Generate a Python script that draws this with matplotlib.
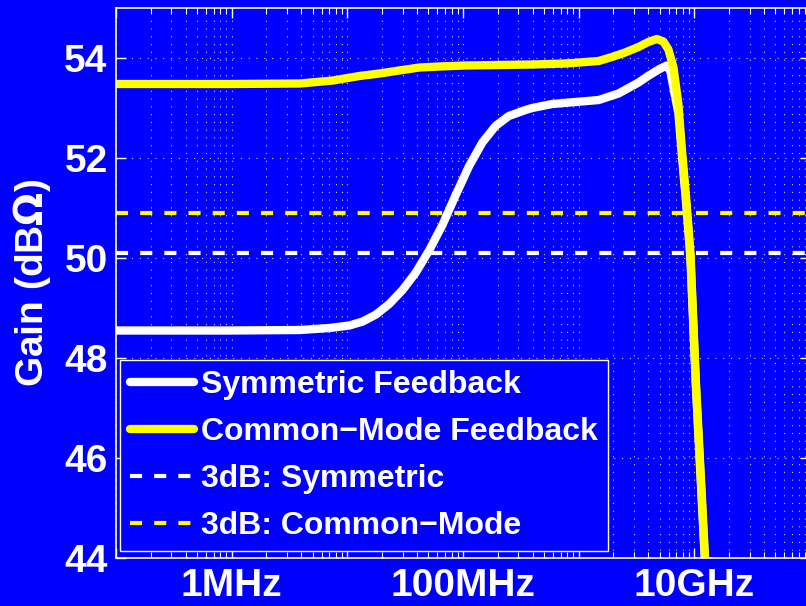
import matplotlib
matplotlib.use("Agg")
import matplotlib.pyplot as plt
from matplotlib.ticker import FixedLocator, FixedFormatter, LogLocator, NullFormatter

# frequency (Hz) and gain (dB ohm)
freq_sym = [1.0e5, 1.0e6, 3.9e6, 7.0e6, 1.04e7, 1.36e7, 1.77e7, 2.3e7, 3.0e7,
            3.91e7, 5.09e7, 6.64e7, 8.65e7, 1.13e8, 1.47e8, 1.91e8, 2.49e8,
            3.47e8, 3.96e8, 5.9e8, 9.35e8, 1.49e9, 2.21e9, 3.29e9, 3.98e9,
            5.0e9, 5.75e9, 6.2e9, 6.73e9, 7.28e9, 7.78e9, 8.53e9, 9.25e9,
            1.03e10, 1.13e10, 1.24e10, 1.38e10]
gain_sym = [48.55, 48.55, 48.56, 48.60, 48.65, 48.73, 48.87, 49.08, 49.36,
            49.71, 50.15, 50.66, 51.26, 51.84, 52.31, 52.64, 52.84,
            52.96, 53.00, 53.08, 53.12, 53.16, 53.29, 53.51, 53.64,
            53.78, 53.85, 53.74, 53.30, 52.90, 52.10, 51.05, 50.00,
            47.45, 45.65, 43.85, 41.60]

freq_cm = [1.0e5, 1.0e6, 3.9e6, 7.5e6, 1.27e7, 1.9e7, 2.8e7, 4.2e7, 6.2e7,
           1.05e8, 2.0e8, 4.0e8, 7.7e8, 1.49e9, 1.94e9, 2.52e9, 3.29e9,
           4.0e9, 4.73e9, 5.4e9, 5.97e9, 6.6e9, 7.28e9, 7.78e9, 8.53e9,
           9.25e9, 1.03e10, 1.13e10, 1.24e10, 1.38e10]
gain_cm = [53.48, 53.48, 53.49, 53.55, 53.64, 53.69, 53.75, 53.81, 53.83,
           53.85, 53.86, 53.87, 53.89, 53.94, 54.02, 54.11, 54.22,
           54.32, 54.38, 54.33, 54.17, 53.81, 53.08, 52.21, 51.15,
           50.11, 47.55, 45.76, 43.96, 41.70]

sym_3db = 50.11
cm_3db = 50.91

labels = ["Symmetric Feedback", "Common\u2212Mode Feedback",
          "3dB: Symmetric", "3dB: Common\u2212Mode"]
xtick_vals = [1e6, 1e8, 1e10]
xtick_labels = ["1MHz", "100MHz", "10GHz"]
ytick_vals = [44, 46, 48, 50, 52, 54]

plt.rcParams["font.family"] = ["Liberation Sans", "DejaVu Sans"]
plt.rcParams["font.weight"] = "bold"
plt.rcParams["mathtext.fontset"] = "dejavusans"

BLUE = "#0000ff"
YEL = "#ffff00"

fig = plt.figure(figsize=(8.06, 6.06), dpi=100, facecolor=BLUE)
ax = fig.add_axes([116 / 806, 48 / 606, 694 / 806, 550 / 606])
ax.set_facecolor(BLUE)

ax.plot(freq_sym, gain_sym, color="white", lw=6, label=labels[0],
        solid_joinstyle="round", solid_capstyle="round")
ax.plot(freq_cm, gain_cm, color=YEL, lw=6, label=labels[1],
        solid_joinstyle="round", solid_capstyle="round")
ax.axhline(sym_3db, color="white", lw=3, ls=(0, (2.9, 2.9)), label=labels[2])
ax.axhline(cm_3db, color=YEL, lw=3, ls=(0, (2.9, 2.9)), label=labels[3])

ax.set_xscale("log")
ax.set_xlim(1e5, 1e11)
ax.set_ylim(44, 55)

# major ticks every decade, labels only every second one
decades = [1e5, 1e6, 1e7, 1e8, 1e9, 1e10, 1e11]
ax.xaxis.set_major_locator(FixedLocator(decades))
ax.xaxis.set_major_formatter(FixedFormatter(
    [xtick_labels[xtick_vals.index(d)] if d in xtick_vals else "" for d in decades]))
ax.xaxis.set_minor_locator(LogLocator(base=10, subs=range(2, 10), numticks=50))
ax.xaxis.set_minor_formatter(NullFormatter())
ax.set_yticks(ytick_vals)

ax.tick_params(which="both", direction="in", colors="white", top=True, right=True)
ax.tick_params(which="major", length=7, width=1, labelsize=28, pad=7)
ax.tick_params(axis="y", which="major", pad=6)
ax.tick_params(which="minor", length=4, width=0.8)
for s in ax.spines.values():
    s.set_color("white")
    s.set_linewidth(1.2)

ax.grid(True, axis="x", which="both", color="white", ls=(0, (1, 6)), lw=0.8, alpha=0.8)
ax.grid(True, axis="y", which="major", color="white", ls=(0, (1, 6)), lw=0.8, alpha=0.8)

ax.set_ylabel(r"Gain (dB$\Omega$)", color="white", fontsize=28, fontweight="bold")
ax.yaxis.set_label_coords(-0.091, 0.5)

leg = ax.legend(loc="lower left", bbox_to_anchor=(0.0058, 0.0127), borderaxespad=0,
                fontsize=23, handlelength=2.0, handletextpad=0.21, borderpad=0.32,
                labelspacing=0.53, fancybox=False, framealpha=1,
                facecolor=BLUE, edgecolor="white")
leg.get_frame().set_linewidth(1.0)
for t in leg.get_texts():
    t.set_color("white")

fig.savefig("out.png", dpi=100, facecolor=fig.get_facecolor())
